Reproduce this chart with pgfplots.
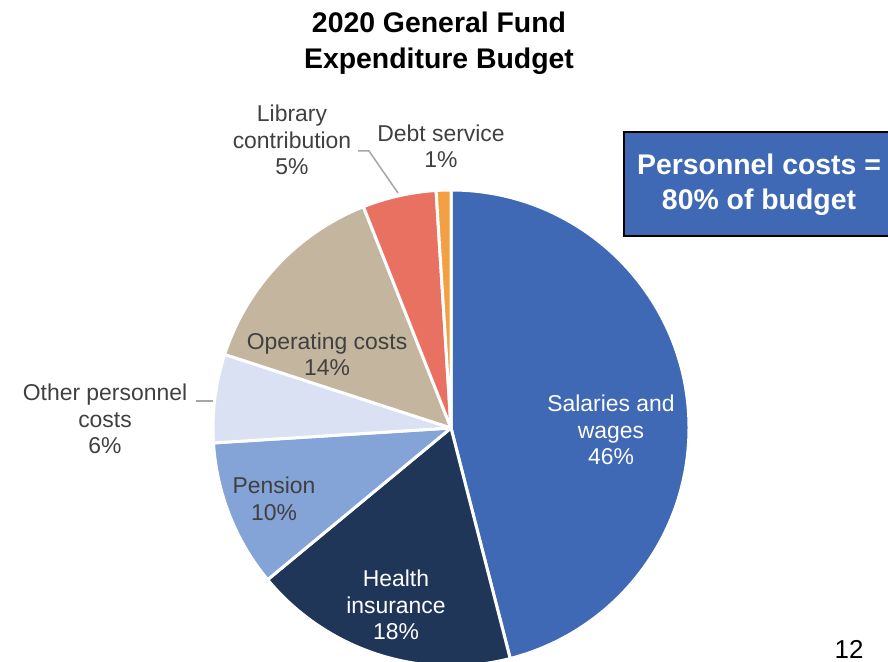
\documentclass[border=0pt]{standalone}
\usepackage{pgfplots}
\pgfplotsset{compat=1.18}
\usepackage{pgfplotstable}
\usepackage{fontspec}
\setmainfont{Liberation Sans}

\definecolor{salcol}{HTML}{3F69B4}
\definecolor{healthcol}{HTML}{203659}
\definecolor{pencol}{HTML}{84A3D6}
\definecolor{othcol}{HTML}{D9E1F2}
\definecolor{opcol}{HTML}{C4B59E}
\definecolor{libcol}{HTML}{E97162}
\definecolor{debtcol}{HTML}{F2A043}
\definecolor{labtext}{HTML}{404040}
\definecolor{leader}{HTML}{A6A6A6}

% shares in percent, clockwise from 12 o'clock
\pgfplotstableread{
share color
46 salcol
18 healthcol
10 pencol
6 othcol
14 opcol
5 libcol
1 debtcol
}\piedata

\begin{document}
\begin{tikzpicture}
\begin{axis}[
    scale only axis,
    width=888bp, height=662bp,
    xmin=0, xmax=888, ymin=0, ymax=662,
    hide axis,
    clip=false,
]
\pgfplotsextra{
  \pgfplotstablegetrowsof{\piedata}
  \pgfmathtruncatemacro\lastrow{\pgfplotsretval-1}
  \xdef\cum{0}
  \foreach \i in {0,...,\lastrow}{
    \pgfplotstablegetelem{\i}{share}\of\piedata \let\share\pgfplotsretval
    \pgfplotstablegetelem{\i}{color}\of\piedata \let\col\pgfplotsretval
    \pgfmathsetmacro\a{90-3.6*\cum}
    \pgfmathsetmacro\b{90-3.6*(\cum+\share)}
    \filldraw[fill=\col, draw=white, line width=3bp, line join=round]
      (axis cs:451,234) -- ++(\a:238bp)
      arc[start angle=\a, end angle=\b, radius=238bp] -- cycle;
    \pgfmathsetmacro\c{\cum+\share}
    \xdef\cum{\c}
  }
}

% title
\node[align=center, font=\fontsize{28.5}{36}\selectfont\bfseries]
  at (axis cs:439,619) {2020 General Fund\\Expenditure Budget};

% slice labels
\tikzset{lab/.style={align=center, text=labtext, font=\fontsize{23}{26.5}\selectfont}}
\node[lab, text=white] at (axis cs:611,232) {Salaries and\\wages\\46\%};
\node[lab, text=white] at (axis cs:396,57) {Health\\insurance\\18\%};
\node[lab] at (axis cs:274,163) {Pension\\10\%};
\node[lab] at (axis cs:105,243) {Other personnel\\costs\\6\%};
\node[lab] at (axis cs:327,308) {Operating costs\\14\%};
\node[lab] at (axis cs:292,522) {Library\\contribution\\5\%};
\node[lab] at (axis cs:441,516) {Debt service\\1\%};

% leader lines
\draw[leader, line width=1.5bp] (axis cs:358,511) -- (axis cs:369,511) -- (axis cs:398,469);
\draw[leader, line width=1.5bp] (axis cs:196,261) -- (axis cs:213,261);

% callout box
\filldraw[fill=salcol, draw=black, line width=1.5bp] (axis cs:624,426) rectangle (axis cs:900,530);
\node[align=center, text=white, font=\fontsize{28.5}{35}\selectfont\bfseries]
  at (axis cs:759,477) {Personnel costs =\\80\% of budget};

% page number
\node[anchor=base, inner sep=0pt, font=\fontsize{26}{30}\selectfont] at (axis cs:849,4) {12};
\end{axis}
\pgfresetboundingbox
\path[use as bounding box] (current axis.south west) rectangle (current axis.north east);
\end{tikzpicture}
\end{document}
